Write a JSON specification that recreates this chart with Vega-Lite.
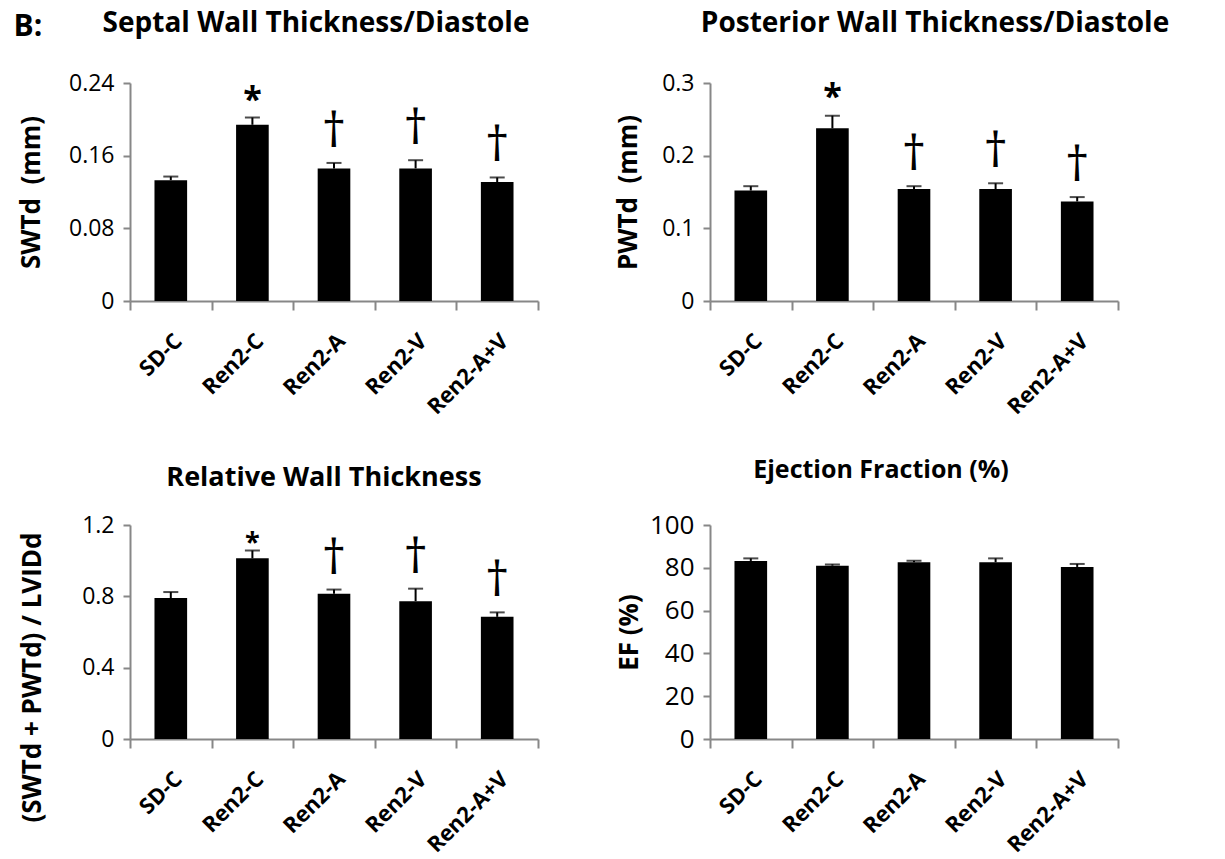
{
  "$schema": "https://vega.github.io/schema/vega-lite/v6.json",
  "background": "white",
  "padding": {"left": 13, "top": 10, "right": 5, "bottom": 5},
  "title": {"text": "B:", "anchor": "start", "frame": "bounds", "offset": -32, "dx": -5, "fontSize": 30, "fontWeight": "bold", "color": "#000"},
  "data": {"values": [
    {"panel": "SWTd", "group": "SD-C", "value": 0.133, "upper": 0.137, "sig": ""},
    {"panel": "SWTd", "group": "Ren2-C", "value": 0.194, "upper": 0.202, "sig": "*"},
    {"panel": "SWTd", "group": "Ren2-A", "value": 0.146, "upper": 0.152, "sig": "†"},
    {"panel": "SWTd", "group": "Ren2-V", "value": 0.146, "upper": 0.155, "sig": "†"},
    {"panel": "SWTd", "group": "Ren2-A+V", "value": 0.131, "upper": 0.136, "sig": "†"},
    {"panel": "PWTd", "group": "SD-C", "value": 0.152, "upper": 0.158, "sig": ""},
    {"panel": "PWTd", "group": "Ren2-C", "value": 0.2376, "upper": 0.255, "sig": "*"},
    {"panel": "PWTd", "group": "Ren2-A", "value": 0.154, "upper": 0.158, "sig": "†"},
    {"panel": "PWTd", "group": "Ren2-V", "value": 0.154, "upper": 0.162, "sig": "†"},
    {"panel": "PWTd", "group": "Ren2-A+V", "value": 0.137, "upper": 0.143, "sig": "†"},
    {"panel": "RWT", "group": "SD-C", "value": 0.79, "upper": 0.824, "sig": ""},
    {"panel": "RWT", "group": "Ren2-C", "value": 1.013, "upper": 1.057, "sig": "*"},
    {"panel": "RWT", "group": "Ren2-A", "value": 0.815, "upper": 0.838, "sig": "†"},
    {"panel": "RWT", "group": "Ren2-V", "value": 0.773, "upper": 0.843, "sig": "†"},
    {"panel": "RWT", "group": "Ren2-A+V", "value": 0.685, "upper": 0.71, "sig": "†"},
    {"panel": "EF", "group": "SD-C", "value": 83.2, "upper": 84.4, "sig": ""},
    {"panel": "EF", "group": "Ren2-C", "value": 81.0, "upper": 81.6, "sig": ""},
    {"panel": "EF", "group": "Ren2-A", "value": 82.6, "upper": 83.3, "sig": ""},
    {"panel": "EF", "group": "Ren2-V", "value": 82.6, "upper": 84.4, "sig": ""},
    {"panel": "EF", "group": "Ren2-A+V", "value": 80.4, "upper": 81.8, "sig": ""}
  ]},
  "columns": 2,
  "bounds": "flush",
  "spacing": {"column": 172, "row": 224},
  "concat": [
    {
      "width": 408, "height": 218,
      "title": {"text": "Septal Wall Thickness/Diastole", "offset": 34, "dx": -18},
      "transform": [{"filter": "datum.panel === 'SWTd'"}],
      "encoding": {
        "x": {"field": "group", "type": "nominal", "sort": ["SD-C", "Ren2-C", "Ren2-A", "Ren2-V", "Ren2-A+V"], "scale": {"paddingInner": 0, "paddingOuter": 0}, "axis": {"title": null}},
        "y": {"field": "value", "type": "quantitative", "scale": {"domain": [0, 0.24], "nice": false}, "axis": {"values": [0, 0.08, 0.16, 0.24], "format": "~g", "title": "SWTd\u00a0 (mm)", "titlePadding": 24}}
      },
      "layer": [
        {"mark": {"type": "bar", "width": {"band": 0.4}, "color": "#000"}},
        {"mark": {"type": "rule", "color": "#000", "strokeWidth": 2}, "encoding": {"y2": {"field": "upper"}}},
        {"mark": {"type": "tick", "color": "#000", "thickness": 2, "size": 15},
         "encoding": {"y": {"field": "upper", "type": "quantitative", "scale": {"domain": [0, 0.24], "nice": false}, "axis": {"values": [0, 0.08, 0.16, 0.24], "format": "~g", "title": "SWTd\u00a0 (mm)", "titlePadding": 24}}}},
        {"transform": [{"filter": "datum.sig === '†'"}],
         "mark": {"type": "text", "fontSize": 48, "baseline": "alphabetic", "dy": -16, "color": "#000"},
         "encoding": {"y": {"field": "upper", "type": "quantitative", "scale": {"domain": [0, 0.24], "nice": false}, "axis": {"values": [0, 0.08, 0.16, 0.24], "format": "~g", "title": "SWTd\u00a0 (mm)", "titlePadding": 24}}, "text": {"field": "sig"}}},
        {"transform": [{"filter": "datum.sig === '*'"}],
         "mark": {"type": "text", "fontSize": 34, "fontWeight": "bold", "baseline": "alphabetic", "dy": -7, "color": "#000"},
         "encoding": {"y": {"field": "upper", "type": "quantitative", "scale": {"domain": [0, 0.24], "nice": false}, "axis": {"values": [0, 0.08, 0.16, 0.24], "format": "~g", "title": "SWTd\u00a0 (mm)", "titlePadding": 24}}, "text": {"field": "sig"}}}
      ]
    },
    {
      "width": 408, "height": 218,
      "title": {"text": "Posterior Wall Thickness/Diastole", "offset": 34, "dx": 21},
      "transform": [{"filter": "datum.panel === 'PWTd'"}],
      "encoding": {
        "x": {"field": "group", "type": "nominal", "sort": ["SD-C", "Ren2-C", "Ren2-A", "Ren2-V", "Ren2-A+V"], "scale": {"paddingInner": 0, "paddingOuter": 0}, "axis": {"title": null}},
        "y": {"field": "value", "type": "quantitative", "scale": {"domain": [0, 0.3], "nice": false}, "axis": {"values": [0, 0.1, 0.2, 0.3], "format": "~g", "title": "PWTd\u00a0 (mm)", "titlePadding": 20}}
      },
      "layer": [
        {"mark": {"type": "bar", "width": {"band": 0.4}, "color": "#000"}},
        {"mark": {"type": "rule", "color": "#000", "strokeWidth": 2}, "encoding": {"y2": {"field": "upper"}}},
        {"mark": {"type": "tick", "color": "#000", "thickness": 2, "size": 15},
         "encoding": {"y": {"field": "upper", "type": "quantitative", "scale": {"domain": [0, 0.3], "nice": false}, "axis": {"values": [0, 0.1, 0.2, 0.3], "format": "~g", "title": "PWTd\u00a0 (mm)", "titlePadding": 20}}}},
        {"transform": [{"filter": "datum.sig === '†'"}],
         "mark": {"type": "text", "fontSize": 48, "baseline": "alphabetic", "dy": -16, "color": "#000"},
         "encoding": {"y": {"field": "upper", "type": "quantitative", "scale": {"domain": [0, 0.3], "nice": false}, "axis": {"values": [0, 0.1, 0.2, 0.3], "format": "~g", "title": "PWTd\u00a0 (mm)", "titlePadding": 20}}, "text": {"field": "sig"}}},
        {"transform": [{"filter": "datum.sig === '*'"}],
         "mark": {"type": "text", "fontSize": 34, "fontWeight": "bold", "baseline": "alphabetic", "dy": -8, "color": "#000"},
         "encoding": {"y": {"field": "upper", "type": "quantitative", "scale": {"domain": [0, 0.3], "nice": false}, "axis": {"values": [0, 0.1, 0.2, 0.3], "format": "~g", "title": "PWTd\u00a0 (mm)", "titlePadding": 20}}, "text": {"field": "sig"}}}
      ]
    },
    {
      "width": 408, "height": 214,
      "title": {"text": "Relative Wall Thickness", "offset": 22, "dx": -10, "fontSize": 27},
      "transform": [{"filter": "datum.panel === 'RWT'"}],
      "encoding": {
        "x": {"field": "group", "type": "nominal", "sort": ["SD-C", "Ren2-C", "Ren2-A", "Ren2-V", "Ren2-A+V"], "scale": {"paddingInner": 0, "paddingOuter": 0}, "axis": {"title": null}},
        "y": {"field": "value", "type": "quantitative", "scale": {"domain": [0, 1.2], "nice": false}, "axis": {"values": [0, 0.4, 0.8, 1.2], "format": "~g", "title": "(SWTd + PWTd) / LVIDd", "titlePadding": 36, "titleY": 152}}
      },
      "layer": [
        {"mark": {"type": "bar", "width": {"band": 0.4}, "color": "#000"}},
        {"mark": {"type": "rule", "color": "#000", "strokeWidth": 2}, "encoding": {"y2": {"field": "upper"}}},
        {"mark": {"type": "tick", "color": "#000", "thickness": 2, "size": 15},
         "encoding": {"y": {"field": "upper", "type": "quantitative", "scale": {"domain": [0, 1.2], "nice": false}, "axis": {"values": [0, 0.4, 0.8, 1.2], "format": "~g", "title": "(SWTd + PWTd) / LVIDd", "titlePadding": 36, "titleY": 152}}}},
        {"transform": [{"filter": "datum.sig === '†'"}],
         "mark": {"type": "text", "fontSize": 48, "baseline": "alphabetic", "dy": -16, "color": "#000"},
         "encoding": {"y": {"field": "upper", "type": "quantitative", "scale": {"domain": [0, 1.2], "nice": false}, "axis": {"values": [0, 0.4, 0.8, 1.2], "format": "~g", "title": "(SWTd + PWTd) / LVIDd", "titlePadding": 36, "titleY": 152}}, "text": {"field": "sig"}}},
        {"transform": [{"filter": "datum.sig === '*'"}],
         "mark": {"type": "text", "fontSize": 27, "fontWeight": "bold", "baseline": "alphabetic", "dy": 0, "color": "#000"},
         "encoding": {"y": {"field": "upper", "type": "quantitative", "scale": {"domain": [0, 1.2], "nice": false}, "axis": {"values": [0, 0.4, 0.8, 1.2], "format": "~g", "title": "(SWTd + PWTd) / LVIDd", "titlePadding": 36, "titleY": 152}}, "text": {"field": "sig"}}}
      ]
    },
    {
      "width": 408, "height": 214,
      "title": {"text": "Ejection Fraction (%)", "offset": 29, "dx": -33, "fontSize": 25},
      "transform": [{"filter": "datum.panel === 'EF'"}],
      "encoding": {
        "x": {"field": "group", "type": "nominal", "sort": ["SD-C", "Ren2-C", "Ren2-A", "Ren2-V", "Ren2-A+V"], "scale": {"paddingInner": 0, "paddingOuter": 0}, "axis": {"title": null}},
        "y": {"field": "value", "type": "quantitative", "scale": {"domain": [0, 100], "nice": false}, "axis": {"values": [0, 20, 40, 60, 80, 100], "title": "EF (%)", "titlePadding": 7, "labelFontSize": 26}}
      },
      "layer": [
        {"mark": {"type": "bar", "width": {"band": 0.4}, "color": "#000"}},
        {"mark": {"type": "rule", "color": "#000", "strokeWidth": 2}, "encoding": {"y2": {"field": "upper"}}},
        {"mark": {"type": "tick", "color": "#000", "thickness": 2, "size": 15},
         "encoding": {"y": {"field": "upper", "type": "quantitative", "scale": {"domain": [0, 100], "nice": false}, "axis": {"values": [0, 20, 40, 60, 80, 100], "title": "EF (%)", "titlePadding": 7, "labelFontSize": 26}}}}
      ]
    }
  ],
  "config": {
    "font": "Open Sans",
    "view": {"stroke": null},
    "axis": {"domainColor": "#878787", "domainWidth": 2, "tickColor": "#878787", "tickWidth": 2, "labelColor": "#000", "titleColor": "#000", "grid": false, "labelFont": "Open Sans", "titleFont": "Open Sans"},
    "axisY": {"tickSize": 7, "labelPadding": 9, "labelFontSize": 23, "titleFontSize": 26, "titleFontWeight": "bold"},
    "axisX": {"tickSize": 9, "labelPadding": 20, "labelFontSize": 22, "labelFontWeight": "bold", "labelAngle": -45, "tickBand": "extent", "labelOverlap": false},
    "title": {"fontSize": 28, "fontWeight": "bold", "color": "#000", "anchor": "middle", "frame": "group", "font": "Open Sans"}
  }
}
